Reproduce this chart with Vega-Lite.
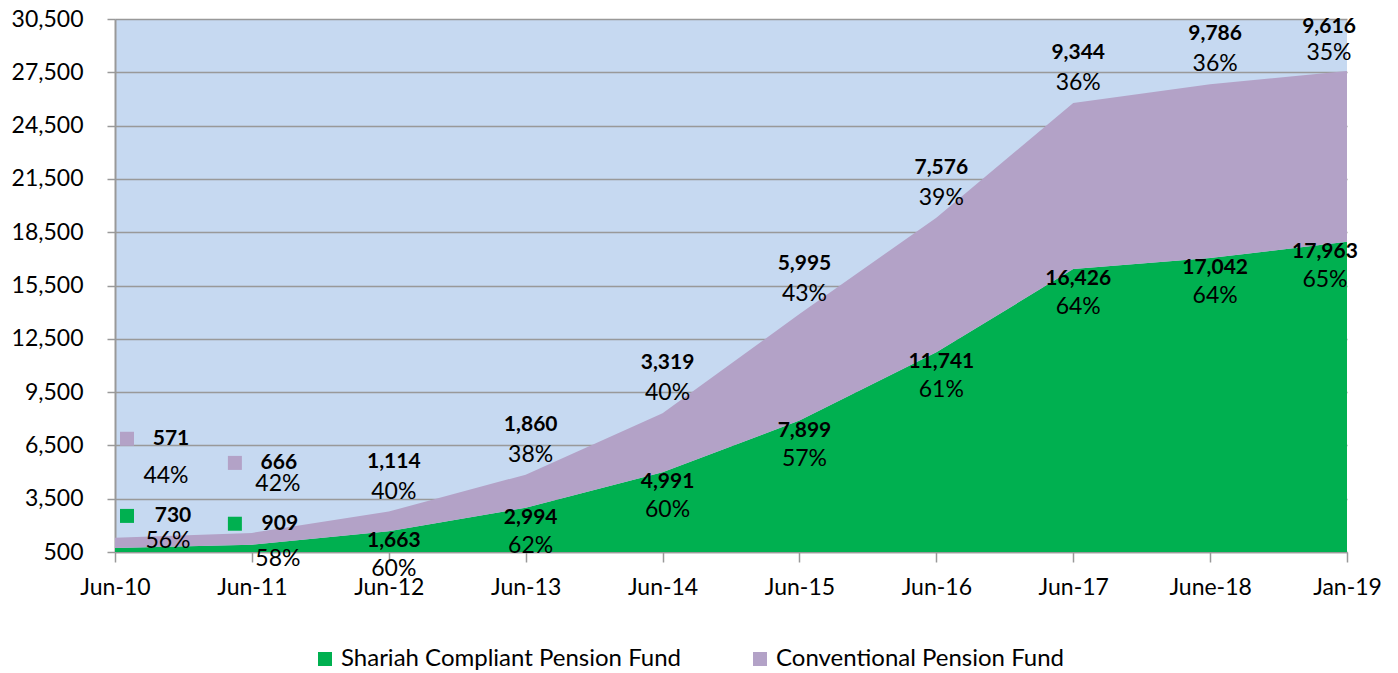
{
  "$schema": "https://vega.github.io/schema/vega-lite/v6.json",
  "width": 1232,
  "height": 533,
  "autosize": {"type": "none"},
  "padding": {"left": 115, "top": 19, "right": 51, "bottom": 121},
  "background": "white",
  "config": {"view": {"fill": "#C6D9F1", "stroke": null}, "font": "Lato"},
  "data": {
    "values": [
      {"date": "Jun-10", "series": "Shariah Compliant Pension Fund", "value": 730, "pct": "56%"},
      {"date": "Jun-11", "series": "Shariah Compliant Pension Fund", "value": 909, "pct": "58%"},
      {"date": "Jun-12", "series": "Shariah Compliant Pension Fund", "value": 1663, "pct": "60%"},
      {"date": "Jun-13", "series": "Shariah Compliant Pension Fund", "value": 2994, "pct": "62%"},
      {"date": "Jun-14", "series": "Shariah Compliant Pension Fund", "value": 4991, "pct": "60%"},
      {"date": "Jun-15", "series": "Shariah Compliant Pension Fund", "value": 7899, "pct": "57%"},
      {"date": "Jun-16", "series": "Shariah Compliant Pension Fund", "value": 11741, "pct": "61%"},
      {"date": "Jun-17", "series": "Shariah Compliant Pension Fund", "value": 16426, "pct": "64%"},
      {"date": "June-18", "series": "Shariah Compliant Pension Fund", "value": 17042, "pct": "64%"},
      {"date": "Jan-19", "series": "Shariah Compliant Pension Fund", "value": 17963, "pct": "65%"},
      {"date": "Jun-10", "series": "Conventional Pension Fund", "value": 571, "pct": "44%"},
      {"date": "Jun-11", "series": "Conventional Pension Fund", "value": 666, "pct": "42%"},
      {"date": "Jun-12", "series": "Conventional Pension Fund", "value": 1114, "pct": "40%"},
      {"date": "Jun-13", "series": "Conventional Pension Fund", "value": 1860, "pct": "38%"},
      {"date": "Jun-14", "series": "Conventional Pension Fund", "value": 3319, "pct": "40%"},
      {"date": "Jun-15", "series": "Conventional Pension Fund", "value": 5995, "pct": "43%"},
      {"date": "Jun-16", "series": "Conventional Pension Fund", "value": 7576, "pct": "39%"},
      {"date": "Jun-17", "series": "Conventional Pension Fund", "value": 9344, "pct": "36%"},
      {"date": "June-18", "series": "Conventional Pension Fund", "value": 9786, "pct": "36%"},
      {"date": "Jan-19", "series": "Conventional Pension Fund", "value": 9616, "pct": "35%"}
    ]
  },
  "transform": [
    {"stack": "value", "groupby": ["date"], "sort": [{"field": "series", "order": "descending"}], "as": ["y0", "y1"]}
  ],
  "encoding": {
    "x": {
      "field": "date",
      "type": "ordinal",
      "sort": ["Jun-10", "Jun-11", "Jun-12", "Jun-13", "Jun-14", "Jun-15", "Jun-16", "Jun-17", "June-18", "Jan-19"],
      "scale": {"type": "point", "padding": 0},
      "axis": {
        "title": null,
        "labelAngle": 0,
        "labelFontSize": 23,
        "labelColor": "black",
        "labelPadding": 14,
        "tickSize": 10,
        "tickColor": "#999999",
        "tickWidth": 1.5,
        "domainColor": "#999999",
        "domainWidth": 1.5,
        "grid": false
      }
    }
  },
  "layer": [
    {
      "mark": {"type": "area", "clip": true, "opacity": 1},
      "encoding": {
        "y": {
          "field": "y1",
          "type": "quantitative",
          "scale": {"domain": [500, 30500], "nice": false, "zero": false},
          "axis": {
            "title": null,
            "values": [500, 3500, 6500, 9500, 12500, 15500, 18500, 21500, 24500, 27500, 30500],
            "format": ",.0f",
            "labelFontSize": 23,
            "labelColor": "black",
            "labelPadding": 24,
            "tickSize": 8,
            "tickColor": "#999999",
            "tickWidth": 1.5,
            "domainColor": "#999999",
            "domainWidth": 2,
            "grid": true,
            "gridColor": "#999999",
            "gridWidth": 1.5
          }
        },
        "y2": {"field": "y0"},
        "color": {
          "field": "series",
          "type": "nominal",
          "scale": {
            "domain": ["Shariah Compliant Pension Fund", "Conventional Pension Fund"],
            "range": ["#00B050", "#B3A2C7"]
          },
          "legend": {
            "title": null,
            "orient": "none",
            "legendX": 198,
            "legendY": 628,
            "direction": "horizontal",
            "symbolType": "square",
            "symbolSize": 196,
            "symbolStrokeWidth": 0,
            "labelFontSize": 24,
            "labelColor": "black",
            "labelLimit": 0,
            "columnPadding": 66,
            "padding": 0
          }
        }
      }
    },
    {
      "transform": [{"filter": "datum.date === 'Jun-10' || datum.date === 'Jun-11'"}],
      "mark": {
        "type": "point",
        "shape": "square",
        "filled": true,
        "opacity": 1,
        "size": 196,
        "xOffset": {"expr": "datum.date === 'Jun-10' ? 12 : -17"},
        "yOffset": {"expr": "datum.series === 'Conventional Pension Fund' ? (datum.date === 'Jun-10' ? -99 : -70) : (datum.date === 'Jun-10' ? -32 : -21)"}
      },
      "encoding": {
        "y": {"field": "y1", "type": "quantitative"},
        "color": {"field": "series", "type": "nominal"}
      }
    },
    {
      "transform": [{"filter": "datum.series === 'Conventional Pension Fund'"}],
      "mark": {
        "type": "text",
        "fontSize": 21,
        "fontWeight": "bold",
        "color": "black",
        "baseline": "middle",
        "dx": {"expr": "datum.date === 'Jun-10' ? 56 : datum.date === 'Jun-11' ? 27 : datum.date === 'Jan-19' ? -18 : 5"},
        "dy": {"expr": "datum.date === 'Jun-10' ? -99 : datum.date === 'Jun-11' ? -70 : datum.date === 'Jan-19' ? -44 : -50"}
      },
      "encoding": {
        "y": {"field": "y1", "type": "quantitative"},
        "text": {"field": "value", "type": "quantitative", "format": ",.0f"}
      }
    },
    {
      "transform": [{"filter": "datum.series === 'Conventional Pension Fund'"}],
      "mark": {
        "type": "text",
        "fontSize": 23,
        "color": "black",
        "baseline": "middle",
        "dx": {"expr": "datum.date === 'Jun-10' ? 51 : datum.date === 'Jun-11' ? 26 : datum.date === 'Jan-19' ? -18 : 5"},
        "dy": {"expr": "datum.date === 'Jun-10' ? -62 : datum.date === 'Jun-11' ? -49 : datum.date === 'Jan-19' ? -18 : -20"}
      },
      "encoding": {
        "y": {"field": "y1", "type": "quantitative"},
        "text": {"field": "pct", "type": "nominal"}
      }
    },
    {
      "transform": [{"filter": "datum.series === 'Shariah Compliant Pension Fund'"}],
      "mark": {
        "type": "text",
        "fontSize": 21,
        "fontWeight": "bold",
        "color": "black",
        "baseline": "middle",
        "dx": {"expr": "datum.date === 'Jun-10' ? 58 : datum.date === 'Jun-11' ? 28 : datum.date === 'Jan-19' ? -22 : 5"},
        "dy": {"expr": "datum.date === 'Jun-10' ? -32 : datum.date === 'Jun-11' ? -21 : 10"}
      },
      "encoding": {
        "y": {"field": "y1", "type": "quantitative"},
        "text": {"field": "value", "type": "quantitative", "format": ",.0f"}
      }
    },
    {
      "transform": [{"filter": "datum.series === 'Shariah Compliant Pension Fund'"}],
      "mark": {
        "type": "text",
        "fontSize": 23,
        "color": "black",
        "baseline": "middle",
        "dx": {"expr": "datum.date === 'Jun-10' ? 53 : datum.date === 'Jun-11' ? 26 : datum.date === 'Jan-19' ? -22 : 5"},
        "dy": {"expr": "datum.date === 'Jun-10' ? -7 : datum.date === 'Jun-11' ? 14 : 38"}
      },
      "encoding": {
        "y": {"field": "y1", "type": "quantitative"},
        "text": {"field": "pct", "type": "nominal"}
      }
    }
  ]
}
